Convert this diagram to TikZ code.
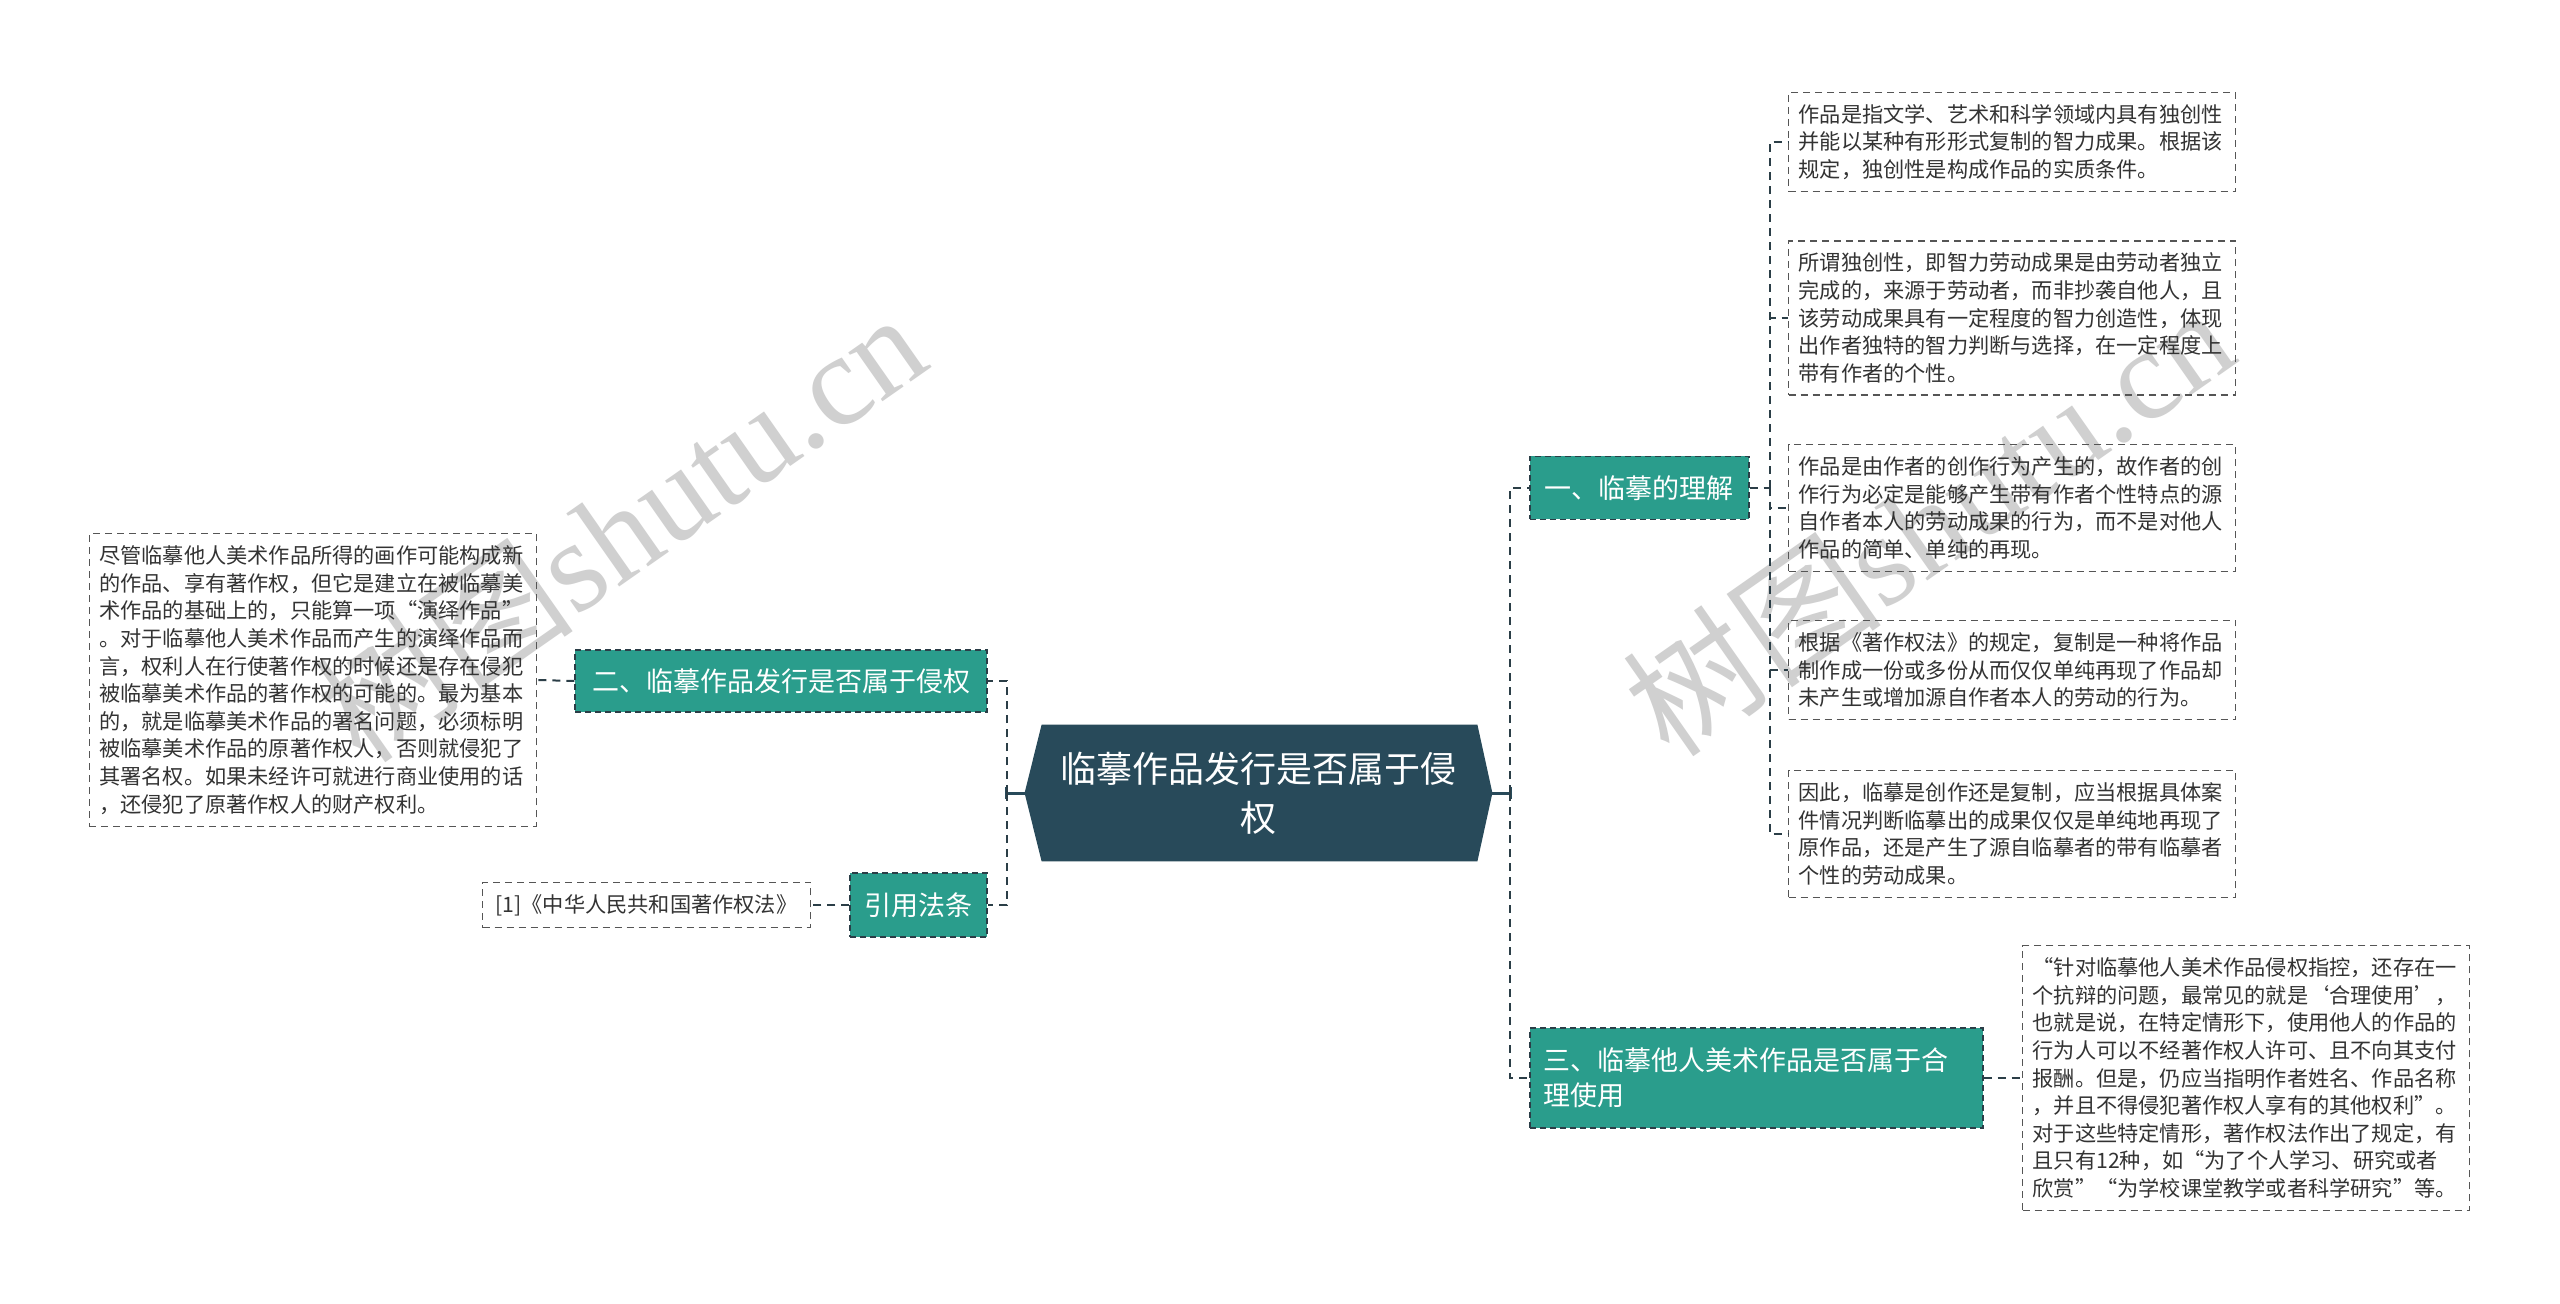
\documentclass[tikz,border=0pt]{standalone}
\usepackage{fontspec}
\setmainfont{Noto Sans CJK SC}
\newfontfamily\wmserif{Liberation Serif}
\usetikzlibrary{calc}
\pgfdeclarelayer{background}
\pgfsetlayers{background,main}
\definecolor{hexfill}{HTML}{284A5A}
\definecolor{tealC}{HTML}{2A9D8C}
\definecolor{lineC}{HTML}{2B3E47}
\definecolor{leafline}{HTML}{555555}
\definecolor{leaftext}{HTML}{333333}
\definecolor{wmC}{HTML}{D0D0D0}
\tikzset{
  conn/.style={draw=lineC, line width=1pt, dash pattern=on 4pt off 3pt},
  hubline/.style={draw=hexfill, line width=1.5pt},
  hubtext/.style={text=white, font=\fontsize{18}{24.5}\selectfont, align=center,
    minimum width=233.5pt, minimum height=68pt, inner sep=0pt},
  topic/.style={fill=tealC, draw=lineC, line width=0.8pt, dash pattern=on 3pt off 2pt,
    text=white, font=\fontsize{13.5}{17.5}\selectfont, inner sep=0pt},
  leaf/.style={draw=leafline, line width=0.7pt, dash pattern=on 3.5pt off 2.5pt,
    text width=213.5pt, align=left, inner xsep=5pt, inner ysep=6pt,
    font=\fontsize{10.6}{13.8}\selectfont, text=leaftext},
  leafplain/.style={draw=leafline, line width=0.7pt, dash pattern=on 3.5pt off 2.5pt,
    inner xsep=6.5pt, inner ysep=6pt, font=\fontsize{10.6}{13.8}\selectfont, text=leaftext},
  wm/.style={text=wmC, font=\fontsize{65}{65}\selectfont, inner sep=0pt, rotate=35}
}
\begin{document}
\begin{tikzpicture}[x=0.5pt, y=-0.5pt]
\useasboundingbox (0,0) rectangle (2560,1304);
\begin{pgfonlayer}{background}
\fill[white] (0,0) rectangle (2560,1304);
\end{pgfonlayer}

% watermarks
\node[wm] (wm1) at (620,526) {树图{\wmserif shutu.cn}};
\node[wm] (wm2) at (1928,520) {树图{\wmserif shutu.cn}};

% center
\node[hubtext] (c) at (1258.5,793) {临摹作品发行是否属于侵\\权};
\begin{pgfonlayer}{background}
\fill[hexfill] (c.west) -- ($(c.north west)+(17,0)$) -- ($(c.north east)+(-15,0)$) -- (c.east)
  -- ($(c.south east)+(-15,0)$) -- ($(c.south west)+(17,0)$) -- cycle;
\end{pgfonlayer}

% topics
\node[topic, anchor=west, minimum width=109.5pt, minimum height=31.5pt] (n1) at (1529,488) {一、临摹的理解};
\node[topic, anchor=east, minimum width=206pt, minimum height=31pt] (n2) at (988,681) {二、临摹作品发行是否属于侵权};
\node[topic, anchor=east, minimum width=68.5pt, minimum height=32pt] (n4) at (988,905) {引用法条};
\node[topic, anchor=west, minimum width=226.5pt, minimum height=50pt, text width=212.5pt,
  align=left, inner xsep=7pt] (n3) at (1529,1078) {三、临摹他人美术作品是否属于合\\理使用};

% leaves of branch one
\node[leaf, anchor=west] (l1) at (1788,142) {作品是指文学、艺术和科学领域内具有独创性\\
并能以某种有形形式复制的智力成果。根据该\\
规定，独创性是构成作品的实质条件。};
\node[leaf, anchor=west] (l2) at (1788,318) {所谓独创性，即智力劳动成果是由劳动者独立\\
完成的，来源于劳动者，而非抄袭自他人，且\\
该劳动成果具有一定程度的智力创造性，体现\\
出作者独特的智力判断与选择，在一定程度上\\
带有作者的个性。};
\node[leaf, anchor=west] (l3) at (1788,508) {作品是由作者的创作行为产生的，故作者的创\\
作行为必定是能够产生带有作者个性特点的源\\
自作者本人的劳动成果的行为，而不是对他人\\
作品的简单、单纯的再现。};
\node[leaf, anchor=west] (l4) at (1788,670) {根据《著作权法》的规定，复制是一种将作品\\
制作成一份或多份从而仅仅单纯再现了作品却\\
未产生或增加源自作者本人的劳动的行为。};
\node[leaf, anchor=west] (l5) at (1788,834) {因此，临摹是创作还是复制，应当根据具体案\\
件情况判断临摹出的成果仅仅是单纯地再现了\\
原作品，还是产生了源自临摹者的带有临摹者\\
个性的劳动成果。};

% leaf of branch three
\node[leaf, anchor=west] (l6) at (2022,1078) {“针对临摹他人美术作品侵权指控，还存在一\\
个抗辩的问题，最常见的就是‘合理使用’，\\
也就是说，在特定情形下，使用他人的作品的\\
行为人可以不经著作权人许可、且不向其支付\\
报酬。但是，仍应当指明作者姓名、作品名称\\
，并且不得侵犯著作权人享有的其他权利”。\\
对于这些特定情形，著作权法作出了规定，有\\
且只有12种，如“为了个人学习、研究或者\\
欣赏”“为学校课堂教学或者科学研究”等。};

% left leaves
\node[leaf, anchor=east] (lL) at (537,680) {尽管临摹他人美术作品所得的画作可能构成新\\
的作品、享有著作权，但它是建立在被临摹美\\
术作品的基础上的，只能算一项“演绎作品”\\
。对于临摹他人美术作品而产生的演绎作品而\\
言，权利人在行使著作权的时候还是存在侵犯\\
被临摹美术作品的著作权的可能的。最为基本\\
的，就是临摹美术作品的署名问题，必须标明\\
被临摹美术作品的原著作权人，否则就侵犯了\\
其署名权。如果未经许可就进行商业使用的话\\
，还侵犯了原著作权人的财产权利。};
\node[leafplain, anchor=east] (lR) at (811,905) {[1]《中华人民共和国著作权法》};

% connectors
\draw[hubline] (c.west) -- ++(-18,0) coordinate (jl);
\draw[hubline] ($(jl)+(0,-6)$) -- ($(jl)+(0,6)$);
\draw[conn] (jl) |- (n2.east);
\draw[conn] (jl) |- (n4.east);
\draw[hubline] (c.east) -- ++(18,0) coordinate (jr);
\draw[hubline] ($(jr)+(0,-6)$) -- ($(jr)+(0,6)$);
\draw[conn] (jr) |- (n1.west);
\draw[conn] (jr) |- (n3.west);
\draw[conn] (n1.east) -- ++(20,0) coordinate (j1);
\draw[conn] (j1) |- (l1.west);
\draw[conn] (j1) |- (l2.west);
\draw[conn] (j1) |- (l3.west);
\draw[conn] (j1) |- (l4.west);
\draw[conn] (j1) |- (l5.west);
\draw[conn] (n3.east) -- (l6.west);
\draw[conn] (n2.west) -- (lL.east);
\draw[conn] (n4.west) -- (lR.east);
\end{tikzpicture}
\end{document}
